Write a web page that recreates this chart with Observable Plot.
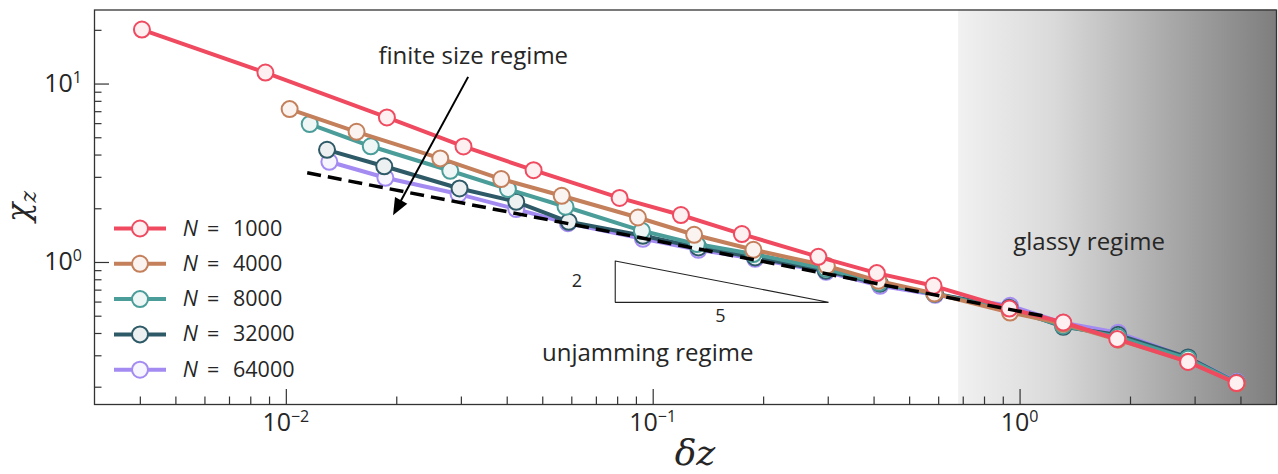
<!DOCTYPE html>
<html>
<head>
<meta charset="utf-8">
<script src="https://cdn.jsdelivr.net/npm/d3@7"></script>
<script src="https://cdn.jsdelivr.net/npm/@observablehq/plot@0.6"></script>
<style>
  html, body { margin: 0; padding: 0; background: #fff; }
  #chart svg { display: block; }
</style>
</head>
<body>
<div id="chart"></div>
<script>
// ---------------- data ----------------
const sizes = [1000, 4000, 8000, 32000, 64000];
const sizeColors = ["#ef4a5f", "#c47f5b", "#4a9d99", "#2e5a67", "#a48bf2"];

const dzN1000  = [0.00404, 0.00877, 0.0188, 0.0304, 0.0472, 0.0810, 0.119, 0.1745, 0.282, 0.407, 0.581, 0.935, 1.312, 1.84, 2.87, 3.89];
const chiN1000 = [20.2, 11.6, 6.50, 4.47, 3.29, 2.30, 1.845, 1.443, 1.076, 0.872, 0.740, 0.552, 0.461, 0.372, 0.277, 0.211];

const dzN4000  = [0.01021, 0.01554, 0.02628, 0.03853, 0.05631, 0.09085, 0.1293, 0.1876, 0.2974, 0.4111, 0.5842, 0.939, 1.312, 1.849, 2.87, 3.90];
const chiN4000 = [7.24, 5.40, 3.83, 2.934, 2.365, 1.787, 1.430, 1.178, 0.958, 0.789, 0.670, 0.524, 0.453, 0.369, 0.278, 0.210];

const dzN8000  = [0.01158, 0.01699, 0.02798, 0.04018, 0.05768, 0.09315, 0.1315, 0.1876, 0.296, 0.4128, 0.5831, 0.935, 1.31, 1.85, 2.87, 3.90];
const chiN8000 = [5.97, 4.48, 3.266, 2.579, 2.052, 1.505, 1.268, 1.115, 0.922, 0.769, 0.668, 0.543, 0.442, 0.383, 0.2885, 0.2117];

const dzN32000  = [0.01291, 0.01849, 0.02966, 0.04233, 0.05885, 0.09376, 0.1328, 0.1896, 0.2955, 0.4154, 0.5867, 0.935, 1.312, 1.85, 2.87, 3.90];
const chiN32000 = [4.28, 3.461, 2.599, 2.189, 1.691, 1.411, 1.214, 1.067, 0.899, 0.760, 0.668, 0.557, 0.436, 0.393, 0.2935, 0.2117];

const dzN64000  = [0.01310, 0.01862, 0.02947, 0.04233, 0.05856, 0.09376, 0.1328, 0.1896, 0.296, 0.4154, 0.5867, 0.9392, 1.31, 1.85, 2.87, 3.90];
const chiN64000 = [3.668, 2.984, 2.418, 1.992, 1.659, 1.358, 1.178, 1.049, 0.887, 0.740, 0.659, 0.572, 0.459, 0.404, 0.292, 0.2145];

// power-law guide (slope -2/5), endpoints
const guideDz  = [0.0114, 1.17];
const guideChi = [3.18, 0.499];

// slope triangle
const triangleDz  = [0.0788, 0.0788, 0.3005, 0.0788];
const triangleChi = [1.02, 0.598, 0.598, 1.02];
const triangleLabels = ["2", "5"];
const triangleLabelDz  = [0.0619, 0.1524];
const triangleLabelChi = [0.789, 0.5026];

// regime annotations
const regimeLabels = ["finite size regime", "unjamming regime", "glassy regime"];
const regimeDz  = [0.03232, 0.0966, 1.542];
const regimeChi = [14.35, 0.3106, 1.289];

// arrow of the "finite size regime" annotation
const arrowFrom = [0.0314, 10.9];
const arrowTo   = [0.0196, 1.827];

// glassy shading starts here
const glassyStart = 0.68;

// axes
const xDomain = [0.003, 5.0];
const yDomain = [0.16, 26];
const xMajorTicks = [0.01, 0.1, 1];
const xMajorExps = ["\u22122", "\u22121", "0"];
const xMinorTicks = [0.004, 0.005, 0.006, 0.007, 0.008, 0.009,
                     0.02, 0.03, 0.04, 0.05, 0.06, 0.07, 0.08, 0.09,
                     0.2, 0.3, 0.4, 0.5, 0.6, 0.7, 0.8, 0.9,
                     2, 3, 4];
const yMajorTicks = [1, 10];
const yMajorExps = ["0", "1"];
const yMinorTicks = [0.2, 0.3, 0.4, 0.5, 0.6, 0.7, 0.8, 0.9,
                     2, 3, 4, 5, 6, 7, 8, 9, 20];

// ---------------- build ----------------
const FONT = "'Open Sans', 'Liberation Sans', sans-serif";
const MATH = "'DejaVu Serif', 'Liberation Serif', serif";
const TEXT = "#262626";
const AXIS = "#333333";

const W = 1278, H = 474;
const mL = 94, mR = 2, mT = 9.5, mB = 70;
const plotW = W - mL - mR, plotH = H - mT - mB;

const dzSeries = [dzN1000, dzN4000, dzN8000, dzN32000, dzN64000];
const chiSeries = [chiN1000, chiN4000, chiN8000, chiN32000, chiN64000];
const rows = [];
sizes.forEach((N, i) => dzSeries[i].forEach((dz, j) => rows.push({N, i, dz, chi: chiSeries[i][j]})));
const tint = i => d3.interpolateRgb("#ffffff", sizeColors[i])(0.09);

function glassyMark(index, scales, values, dims) {
  const g = d3.create("svg:g");
  const lg = g.append("defs").append("linearGradient")
    .attr("id", "glassyGrad").attr("x1", 0).attr("x2", 1).attr("y1", 0).attr("y2", 0);
  [[0, "#f1f1f1"], [0.3, "#dadada"], [0.65, "#ababab"], [1, "#7e7e7e"]].forEach(([o, c]) =>
    lg.append("stop").attr("offset", o).attr("stop-color", c));
  const x0 = scales.x(glassyStart), x1 = scales.x(xDomain[1]);
  g.append("rect").attr("x", x0).attr("y", dims.marginTop)
    .attr("width", x1 - x0).attr("height", dims.height - dims.marginTop - dims.marginBottom)
    .attr("fill", "url(#glassyGrad)");
  return g.node();
}

function arrowMark(index, scales) {
  const x0 = scales.x(arrowFrom[0]), y0 = scales.y(arrowFrom[1]);
  const x1 = scales.x(arrowTo[0]), y1 = scales.y(arrowTo[1]);
  const a = Math.atan2(y1 - y0, x1 - x0), c = Math.cos(a), s = Math.sin(a);
  const hl = 17, hw = 7;
  const bx = x1 - hl * c, by = y1 - hl * s;
  const g = d3.create("svg:g");
  g.append("line").attr("x1", x0).attr("y1", y0).attr("x2", bx + 2 * c).attr("y2", by + 2 * s)
    .attr("stroke", "#000").attr("stroke-width", 2);
  g.append("path").attr("d", `M${x1},${y1}L${bx - hw * s},${by + hw * c}L${bx + hw * s},${by - hw * c}Z`)
    .attr("fill", "#000");
  return g.node();
}

function tickLabelMark(index, scales, values, dims) {
  const g = d3.create("svg:g").attr("font-family", FONT).attr("fill", TEXT);
  const base = dims.height - dims.marginBottom;
  xMajorTicks.forEach((v, i) => {
    const t = g.append("text").attr("x", scales.x(v)).attr("y", base + 27)
      .attr("text-anchor", "middle").attr("font-size", 25);
    t.append("tspan").text("10");
    t.append("tspan").attr("font-size", 16).attr("dy", -9.5).text(xMajorExps[i]);
  });
  yMajorTicks.forEach((v, i) => {
    const t = g.append("text").attr("x", dims.marginLeft - 12).attr("y", scales.y(v) + 8.5)
      .attr("text-anchor", "end").attr("font-size", 25);
    t.append("tspan").text("10");
    t.append("tspan").attr("font-size", 16).attr("dy", -9.5).text(yMajorExps[i]);
  });
  // axis titles
  const yl = g.append("text").attr("transform", `translate(29,206.5) rotate(-90)`)
    .attr("text-anchor", "middle").attr("font-family", MATH).attr("font-style", "italic").attr("font-size", 32);
  yl.append("tspan").text("\u03c7");
  yl.append("tspan").attr("font-size", 22).attr("dy", 7).text("z");
  g.append("text").attr("x", 695).attr("y", 465).attr("text-anchor", "middle")
    .attr("font-family", MATH).attr("font-style", "italic").attr("font-size", 36).text("\u03b4z");
  return g.node();
}

function legendMark(index, scales, values, dims) {
  const g = d3.create("svg:g").attr("font-family", FONT).attr("font-size", 21.5)
    .attr("fill", TEXT).attr("text-anchor", "start");
  const ox = dims.marginLeft, oy = dims.marginTop;
  sizes.forEach((N, i) => {
    const cy = oy + 219 + i * 35.3;
    g.append("line").attr("x1", ox + 20).attr("x2", ox + 72).attr("y1", cy).attr("y2", cy)
      .attr("stroke", sizeColors[i]).attr("stroke-width", 4);
    g.append("circle").attr("cx", ox + 46).attr("cy", cy).attr("r", 8)
      .attr("fill", tint(i)).attr("stroke", sizeColors[i]).attr("stroke-width", 2);
    const t = g.append("text").attr("y", cy + 7);
    t.append("tspan").attr("x", ox + 88.7).attr("font-style", "italic").text("N");
    t.append("tspan").attr("x", ox + 113).text("=");
    t.append("tspan").attr("x", ox + 139).text(String(N));
  });
  return g.node();
}

const marks = [glassyMark];
[4, 3, 2, 1, 0].forEach(i => {
  const data = rows.filter(r => r.i === i);
  marks.push(Plot.line(data, {x: "dz", y: "chi", stroke: sizeColors[i], strokeWidth: 4}));
  marks.push(Plot.dot(data, {x: "dz", y: "chi", r: 8, fill: tint(i), stroke: sizeColors[i], strokeWidth: 2}));
});
marks.push(
  Plot.line(guideDz.map((d, i) => ({dz: d, chi: guideChi[i]})),
    {x: "dz", y: "chi", stroke: "#000", strokeWidth: 3.5, strokeDasharray: "14,7", strokeLinecap: "butt"}),
  Plot.line(triangleDz.map((d, i) => ({dz: d, chi: triangleChi[i]})),
    {x: "dz", y: "chi", stroke: "#222", strokeWidth: 1.1, strokeLinejoin: "miter"}),
  Plot.text(triangleLabels, {x: (d, i) => triangleLabelDz[i], y: (d, i) => triangleLabelChi[i], text: d => d,
    fontSize: 18, fontFamily: FONT, fill: TEXT}),
  Plot.text(regimeLabels, {x: (d, i) => regimeDz[i], y: (d, i) => regimeChi[i], text: d => d,
    fontSize: 24, fontFamily: FONT, fill: TEXT}),
  arrowMark,
  legendMark,
  Plot.tickX(xMinorTicks, {x: d => d, insetTop: plotH - 7.5, stroke: AXIS, strokeWidth: 1.2}),
  Plot.tickX(xMajorTicks, {x: d => d, insetTop: plotH - 15, stroke: AXIS, strokeWidth: 1.2}),
  Plot.tickY(yMinorTicks, {y: d => d, insetRight: plotW - 7.5, stroke: AXIS, strokeWidth: 1.2}),
  Plot.tickY(yMajorTicks, {y: d => d, insetRight: plotW - 15, stroke: AXIS, strokeWidth: 1.2}),
  Plot.frame({stroke: AXIS, strokeWidth: 1.3}),
  tickLabelMark
);

const chart = Plot.plot({
  width: W, height: H,
  marginLeft: mL, marginRight: mR, marginTop: mT, marginBottom: mB,
  x: {type: "log", domain: xDomain, axis: null},
  y: {type: "log", domain: yDomain, axis: null},
  style: {background: "#fff", fontFamily: FONT},
  marks
});
document.getElementById("chart").appendChild(chart);
</script>
</body>
</html>
